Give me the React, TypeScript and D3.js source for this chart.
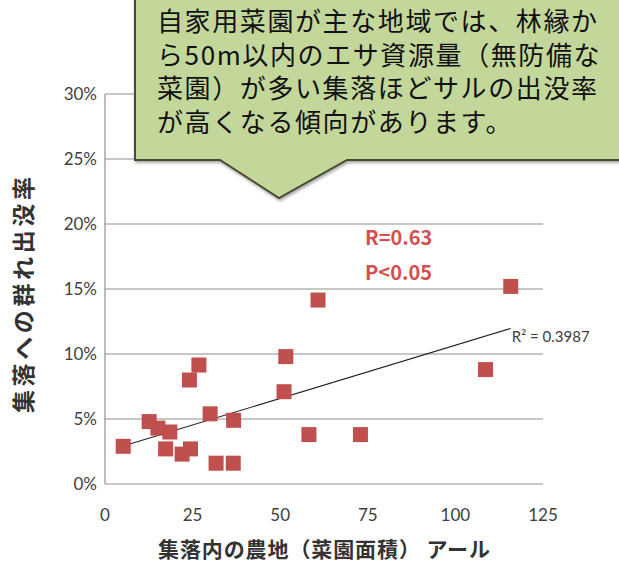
import * as d3 from 'd3';

// 集落内の農地（菜園面積, アール） vs 集落への群れ出没率 (%)
const farmArea = [5.2, 12.6, 15.1, 18.5, 17.3, 22.0, 24.4, 24.1, 26.8, 30.0, 31.7, 36.6, 36.7, 51.1, 51.6, 58.2, 60.8, 72.9, 108.6, 115.8];
const appearanceRate = [2.9, 4.8, 4.3, 4.0, 2.7, 2.3, 2.7, 8.0, 9.15, 5.4, 1.6, 1.6, 4.9, 7.1, 9.8, 3.8, 14.15, 3.8, 8.8, 15.2];

const xTicks = [0, 25, 50, 75, 100, 125];
const yTicks = [0, 5, 10, 15, 20, 25, 30];

const calloutLines = [
  '自家用菜園が主な地域では、林縁か',
  'ら50m以内のエサ資源量（無防備な',
  '菜園）が多い集落ほどサルの出没率',
  'が高くなる傾向があります。',
];

const W = 619;
const H = 565;
const margin = { left: 105, right: 76, top: 94, bottom: 81 };

const JP = '"Noto Sans CJK JP", sans-serif';
const LAT = 'Lato, "Open Sans", sans-serif';

export default function App() {
  const x = d3.scaleLinear().domain([0, 125]).range([margin.left, W - margin.right]);
  const y = d3.scaleLinear().domain([0, 30]).range([H - margin.bottom, margin.top]);

  // least squares trend line
  const mx = d3.mean(farmArea)!;
  const my = d3.mean(appearanceRate)!;
  let sxy = 0;
  let sxx = 0;
  farmArea.forEach((v, i) => {
    sxy += (v - mx) * (appearanceRate[i] - my);
    sxx += (v - mx) * (v - mx);
  });
  const slope = sxy / sxx;
  const icpt = my - slope * mx;
  const [x0, x1] = d3.extent(farmArea) as [number, number];
  const trend = d3.line<number>().x((d) => x(d)).y((d) => y(icpt + slope * d))([x0, x1]);

  const ms = 15;

  return (
    <svg width={W} height={H} style={{ position: 'absolute', left: 0, top: 0, background: '#fff' }}>
      <defs>
        <filter id="sh" x="-10%" y="-10%" width="130%" height="140%">
          <feDropShadow dx="1" dy="2" stdDeviation="1.5" floodColor="#000" floodOpacity="0.35" />
        </filter>
      </defs>

      {/* gridlines */}
      {yTicks.map((t) => (
        <line key={t} x1={margin.left} x2={W - margin.right} y1={y(t)} y2={y(t)} stroke="#8f8f8f" strokeWidth={1.2} />
      ))}
      <line x1={margin.left} x2={margin.left} y1={y(30)} y2={y(0)} stroke="#8f8f8f" strokeWidth={1.2} />

      {/* y tick labels */}
      {yTicks.map((t) => (
        <text key={t} x={margin.left - 8} y={y(t)} dy="0.35em" textAnchor="end" fontFamily={LAT} fontSize={17} fill="#404040">
          {t}%
        </text>
      ))}
      {/* x tick labels */}
      {xTicks.map((t) => (
        <text key={t} x={x(t)} y={521} textAnchor="middle" fontFamily={LAT} fontSize={17} fill="#404040">
          {t}
        </text>
      ))}

      {/* axis titles */}
      <text
        transform={`translate(32,295) rotate(-90)`}
        textAnchor="middle"
        fontFamily={JP}
        fontWeight="bold"
        fontSize={23}
        fill="#333"
        textLength={236}
        lengthAdjust="spacing"
      >
        集落への群れ出没率
      </text>
      <text x={324} y={557} textAnchor="middle" fontFamily={JP} fontWeight="bold" fontSize={21} fill="#333"
        textLength={332} lengthAdjust="spacing">
        集落内の農地（菜園面積） アール
      </text>

      {/* trend line */}
      <path d={trend ?? ''} stroke="#222" strokeWidth={1.1} fill="none" />

      {/* points */}
      {farmArea.map((v, i) => (
        <rect key={i} x={x(v) - ms / 2} y={y(appearanceRate[i]) - ms / 2} width={ms} height={ms} fill="#c0504d" />
      ))}

      <text x={x(x1) + 1} y={342} fontFamily={LAT} fontSize={15} fill="#404040">
        R² = 0.3987
      </text>

      <text x={365} y={245} fontFamily={JP} fontWeight="bold" fontSize={20} fill="#d44f4f">
        R=0.63
      </text>
      <text x={365} y={280} fontFamily={JP} fontWeight="bold" fontSize={20} fill="#d44f4f">
        P&lt;0.05
      </text>

      {/* callout */}
      <path
        d="M135,-5 L625,-5 L625,160 L347,160 L279,198 L220,160 L135,160 Z"
        fill="#c4d79b"
        stroke="#4a4a30"
        strokeWidth={2}
        filter="url(#sh)"
      />
      {calloutLines.map((l, i) => (
        <text key={i} x={157} y={31 + i * 33.7} fontFamily={JP} fontSize={26} letterSpacing={1.6} fill="#111">
          {l}
        </text>
      ))}
    </svg>
  );
}
